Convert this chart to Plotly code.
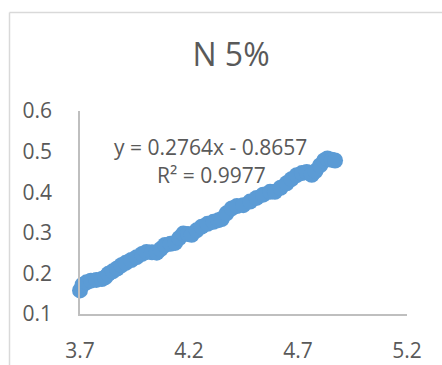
import plotly.graph_objects as go

# Data
x_vals = [3.700, 3.712, 3.730, 3.750, 3.775, 3.800, 3.815, 3.830, 3.850, 3.870,
          3.890, 3.910, 3.935, 3.960, 3.985, 4.005, 4.030, 4.052, 4.070, 4.090,
          4.115, 4.136, 4.155, 4.174, 4.195, 4.212, 4.235, 4.258, 4.285, 4.312,
          4.335, 4.350, 4.372, 4.396, 4.420, 4.449, 4.480, 4.510, 4.540, 4.572,
          4.594, 4.620, 4.648, 4.670, 4.694, 4.718, 4.740, 4.763, 4.780, 4.801,
          4.820, 4.835, 4.855, 4.870]
y_vals = [0.158, 0.172, 0.178, 0.182, 0.184, 0.186, 0.190, 0.199, 0.205, 0.212,
          0.220, 0.226, 0.233, 0.240, 0.248, 0.253, 0.252, 0.251, 0.260, 0.270,
          0.273, 0.275, 0.287, 0.298, 0.297, 0.295, 0.306, 0.315, 0.322, 0.327,
          0.331, 0.334, 0.348, 0.360, 0.366, 0.368, 0.377, 0.386, 0.394, 0.401,
          0.401, 0.411, 0.422, 0.432, 0.442, 0.447, 0.450, 0.443, 0.452, 0.466,
          0.478, 0.483, 0.480, 0.478]

x_ticks = [3.7, 4.2, 4.7, 5.2]
x_tick_labels = ["3.7", "4.2", "4.7", "5.2"]
y_ticks = [0.1, 0.2, 0.3, 0.4, 0.5, 0.6]
y_tick_labels = ["0.1", "0.2", "0.3", "0.4", "0.5", "0.6"]

title_text = "N 5%"
equation_text = "y = 0.2764x - 0.8657"
r2_text = "R² = 0.9977"

FONT = "Open Sans"
TXT = "#595959"
AXIS = "#BFBFBF"

fig = go.Figure()
fig.add_trace(go.Scatter(
    x=x_vals, y=y_vals, mode="markers", cliponaxis=False,
    marker=dict(size=16, color="#5B9BD5", line=dict(width=0)),
    showlegend=False, hoverinfo="skip",
))

# plot area in pixels: x 80..407, y 111..314
L, R, T, B = 80, 35, 111, 51
W, H = 442, 365
pw, ph = W - L - R, H - T - B

def px(xp):
    return (xp - L) / pw

def py(yp):
    return (H - B - yp) / ph

fig.update_layout(
    width=W, height=H,
    margin=dict(l=L, r=R, t=T, b=B, pad=0, autoexpand=False),
    paper_bgcolor="white", plot_bgcolor="white",
    font=dict(family=FONT, color=TXT, size=21),
    title=dict(text=title_text, xref="container", x=231 / W, xanchor="center",
               yref="container", y=1 - 55 / H, yanchor="middle", automargin=False,
               font=dict(family=FONT, size=32, color=TXT)),
    xaxis=dict(range=[3.7, 5.2], tickvals=x_ticks, ticktext=x_tick_labels,
               showgrid=False, zeroline=False, showline=True, linecolor=AXIS,
               linewidth=1.5, ticks="", ticklabelstandoff=17, automargin=False,
               tickfont=dict(family=FONT, size=21, color=TXT)),
    yaxis=dict(range=[0.1, 0.6], tickvals=y_ticks, ticktext=y_tick_labels,
               showgrid=False, zeroline=False, showline=True, linecolor=AXIS,
               linewidth=1.5, ticks="", ticklabelstandoff=22, automargin=False,
               tickfont=dict(family=FONT, size=21, color=TXT)),
    annotations=[
        dict(text=equation_text, xref="paper", yref="paper",
             x=px(210), y=py(147), xanchor="center", yanchor="middle",
             showarrow=False, font=dict(family=FONT, size=21, color=TXT)),
        dict(text=r2_text, xref="paper", yref="paper",
             x=px(211), y=py(175), xanchor="center", yanchor="middle",
             showarrow=False, font=dict(family=FONT, size=21, color=TXT)),
    ],
    shapes=[
        dict(type="line", xref="paper", yref="paper",
             x0=px(9.5), x1=px(460), y0=py(12.5), y1=py(12.5),
             line=dict(color="#D9D9D9", width=1.5)),
        dict(type="line", xref="paper", yref="paper",
             x0=px(9.5), x1=px(9.5), y0=py(12.5), y1=py(380),
             line=dict(color="#D9D9D9", width=1.5)),
    ],
)

fig.write_html("out.html")
